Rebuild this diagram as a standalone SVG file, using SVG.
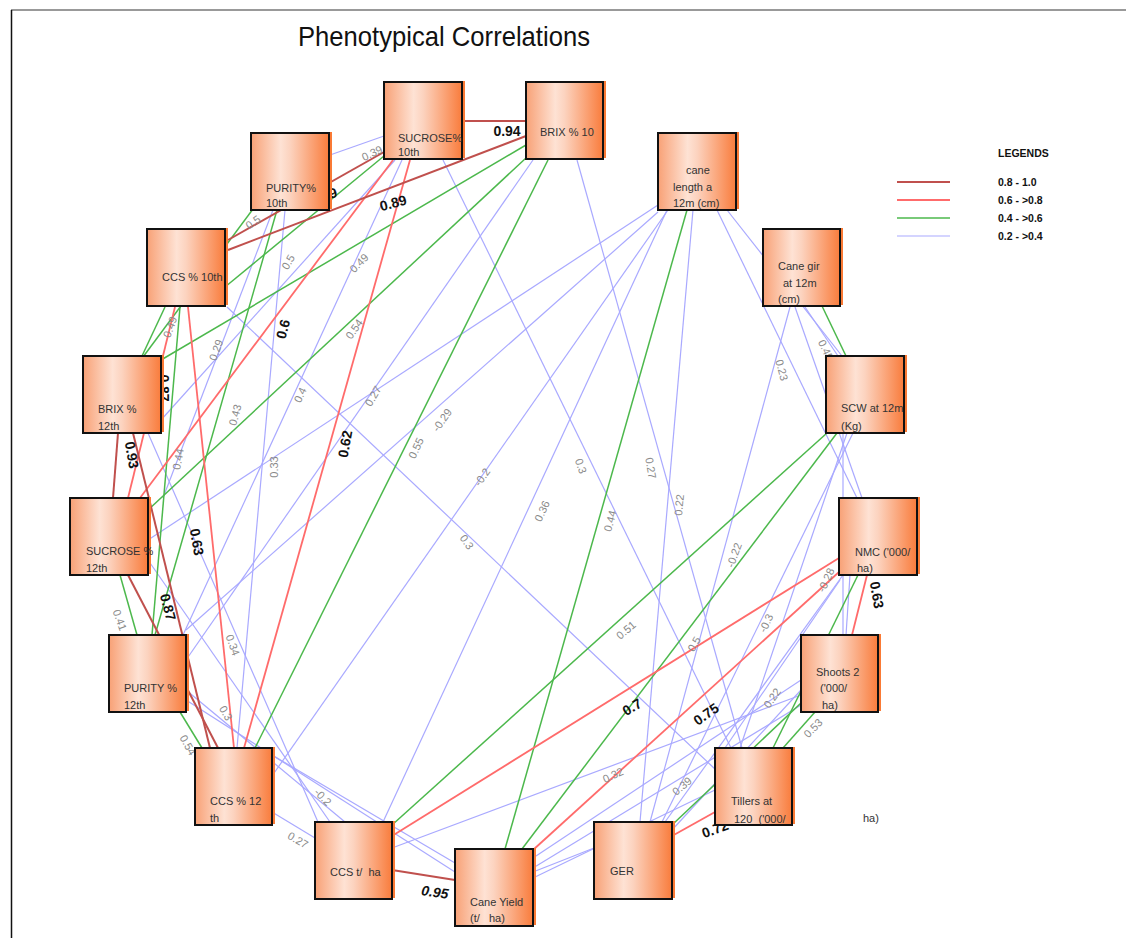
<svg xmlns="http://www.w3.org/2000/svg" width="1126" height="938" viewBox="0 0 1126 938">
<defs>
<linearGradient id="gr" x1="0" y1="0" x2="1" y2="0">
<stop offset="0" stop-color="#f8a176"/>
<stop offset="0.38" stop-color="#fee2d4"/>
<stop offset="0.5" stop-color="#fcd3bf"/>
<stop offset="1" stop-color="#f97c3c"/>
</linearGradient>
<style>
.dr{stroke:#c0504d;stroke-width:2;fill:none}
.r{stroke:#ff6b6b;stroke-width:1.8;fill:none}
.g{stroke:#4cb84c;stroke-width:1.5;fill:none}
.b{stroke:#a9a9ff;stroke-width:1.2;fill:none}
.sh{fill:#fa7a35}
.box{fill:url(#gr);stroke:#111;stroke-width:2}
.t{font-family:"Liberation Sans",Arial,sans-serif;font-size:11px;fill:#333;white-space:pre}
.lg{font-family:"Liberation Sans",Arial,sans-serif;font-size:11px;fill:#8a8a8a;text-anchor:middle;dominant-baseline:central}
.lb{font-family:"Liberation Sans",Arial,sans-serif;font-size:14px;font-weight:bold;fill:#111;text-anchor:middle;dominant-baseline:central}
.leg{font-family:"Liberation Sans",Arial,sans-serif;font-size:10.5px;font-weight:bold;fill:#111}
</style>
</defs>
<rect width="1126" height="938" fill="#fff"/>
<line x1="11" y1="10" x2="1126" y2="10" stroke="#777" stroke-width="1.5"/>
<line x1="11.5" y1="10" x2="11.5" y2="938" stroke="#111" stroke-width="1.5"/>
<text x="298" y="46" font-family="Liberation Sans, Arial, sans-serif" font-size="28" fill="#111" textLength="292" lengthAdjust="spacingAndGlyphs">Phenotypical Correlations</text>

<g id="legend">
<text class="leg" x="998" y="157">LEGENDS</text>
<line class="dr" x1="897" y1="182" x2="950" y2="182"/>
<line class="r" x1="897" y1="200" x2="950" y2="200"/>
<line class="g" x1="897" y1="218" x2="950" y2="218" stroke-width="2"/>
<line class="b" x1="897" y1="236" x2="950" y2="236" stroke-width="1.5"/>
<text class="leg" x="998" y="186">0.8 - 1.0</text>
<text class="leg" x="998" y="204">0.6 - &gt;0.8</text>
<text class="leg" x="998" y="222">0.4 - &gt;0.6</text>
<text class="leg" x="998" y="240">0.2 - &gt;0.4</text>
</g>

<g id="connectors">
<line class="b" x1="384" y1="136" x2="330" y2="155"/>
<line class="b" x1="443" y1="160" x2="731" y2="748"/>
<line class="b" x1="577" y1="160" x2="742" y2="748"/>
<line class="b" x1="658" y1="212" x2="186" y2="630"/>
<line class="b" x1="667" y1="210" x2="383" y2="822"/>
<line class="b" x1="693" y1="210" x2="640" y2="822"/>
<line class="b" x1="717" y1="210" x2="857" y2="498"/>
<line class="b" x1="727" y1="210" x2="842" y2="356"/>
<line class="b" x1="658" y1="205" x2="148" y2="540"/>
<line class="b" x1="668" y1="210" x2="272" y2="776"/>
<line class="b" x1="402" y1="160" x2="183" y2="635"/>
<line class="b" x1="533" y1="160" x2="186" y2="660"/>
<line class="b" x1="272" y1="755" x2="455" y2="863"/>
<line class="b" x1="186" y1="690" x2="345" y2="822"/>
<line class="b" x1="186" y1="700" x2="455" y2="872"/>
<line class="b" x1="392" y1="848" x2="801" y2="695"/>
<line class="b" x1="148" y1="560" x2="330" y2="822"/>
<line class="b" x1="148" y1="433" x2="318" y2="822"/>
<line class="b" x1="227" y1="307" x2="716" y2="770"/>
<line class="b" x1="790" y1="307" x2="650" y2="822"/>
<line class="b" x1="847" y1="433" x2="740" y2="748"/>
<line class="b" x1="853" y1="433" x2="662" y2="822"/>
<line class="b" x1="843" y1="433" x2="843" y2="635"/>
<line class="b" x1="843" y1="575" x2="665" y2="822"/>
<line class="b" x1="533" y1="858" x2="801" y2="680"/>
<line class="b" x1="533" y1="872" x2="594" y2="848"/>
<line class="b" x1="801" y1="705" x2="533" y2="868"/>
<line class="b" x1="273" y1="210" x2="163" y2="498"/>
<line class="b" x1="285" y1="210" x2="237" y2="748"/>
<line class="b" x1="805" y1="307" x2="838" y2="356"/>
<line class="b" x1="795" y1="307" x2="862" y2="498"/>
<line class="b" x1="850" y1="575" x2="846" y2="635"/>
<line class="b" x1="840" y1="580" x2="725" y2="748"/>
<line class="b" x1="801" y1="690" x2="672" y2="830"/>
<line class="b" x1="715" y1="790" x2="533" y2="878"/>
<line class="b" x1="395" y1="160" x2="161" y2="420"/>
<line class="b" x1="272" y1="812" x2="315" y2="838"/>
<line class="g" x1="526" y1="145" x2="161" y2="360"/>
<line class="g" x1="526" y1="158" x2="148" y2="510"/>
<line class="g" x1="548" y1="160" x2="255" y2="748"/>
<line class="g" x1="687" y1="210" x2="505" y2="849"/>
<line class="g" x1="822" y1="306" x2="846" y2="356"/>
<line class="g" x1="827" y1="433" x2="392" y2="825"/>
<line class="g" x1="837" y1="433" x2="522" y2="849"/>
<line class="g" x1="858" y1="575" x2="773" y2="748"/>
<line class="g" x1="815" y1="712" x2="783" y2="748"/>
<line class="g" x1="672" y1="825" x2="801" y2="703"/>
<line class="g" x1="384" y1="156" x2="225" y2="287"/>
<line class="g" x1="256" y1="205" x2="143" y2="357"/>
<line class="g" x1="277" y1="210" x2="155" y2="635"/>
<line class="g" x1="180" y1="307" x2="152" y2="635"/>
<line class="g" x1="120" y1="575" x2="137" y2="635"/>
<line class="g" x1="165" y1="307" x2="142" y2="356"/>
<line class="g" x1="180" y1="712" x2="202" y2="748"/>
<line class="r" x1="393" y1="160" x2="140" y2="498"/>
<line class="r" x1="410" y1="160" x2="244" y2="748"/>
<line class="r" x1="175" y1="307" x2="128" y2="498"/>
<line class="r" x1="188" y1="307" x2="234" y2="748"/>
<line class="r" x1="392" y1="836" x2="839" y2="558"/>
<line class="r" x1="533" y1="850" x2="839" y2="572"/>
<line class="r" x1="867" y1="575" x2="852" y2="635"/>
<line class="r" x1="672" y1="836" x2="715" y2="812"/>
<line class="dr" x1="462" y1="121" x2="526" y2="121"/>
<line class="dr" x1="526" y1="136" x2="228" y2="250"/>
<line class="dr" x1="384" y1="152" x2="228" y2="240"/>
<line class="dr" x1="118" y1="433" x2="113" y2="498"/>
<line class="dr" x1="128" y1="575" x2="218" y2="748"/>
<line class="dr" x1="133" y1="433" x2="210" y2="748"/>
<line class="dr" x1="392" y1="870" x2="455" y2="880"/>

<text class="lb" x="507" y="131">0.94</text>
<text class="lb" transform="translate(393,203) rotate(-15)">0.89</text>
<text class="lb" transform="translate(333,193) rotate(-15)">9</text>
<text class="lb" transform="translate(283,329) rotate(-75)">0.6</text>
<text class="lb" transform="translate(164,388) rotate(90)">0.87</text>
<text class="lb" transform="translate(132,455) rotate(80)">0.93</text>
<text class="lb" transform="translate(197,542) rotate(80)">0.63</text>
<text class="lb" transform="translate(168,607) rotate(75)">0.87</text>
<text class="lb" transform="translate(345,444) rotate(-80)">0.62</text>
<text class="lb" font-style="italic" transform="translate(435,892) rotate(8)">0.95</text>
<text class="lb" transform="translate(632,707) rotate(-30)">0.7</text>
<text class="lb" transform="translate(706,714) rotate(-35)">0.75</text>
<text class="lb" transform="translate(715,829) rotate(-20)">0.72</text>
<text class="lb" transform="translate(877,595) rotate(80)">0.63</text>

<text class="lg" transform="translate(372,153) rotate(-25)">0.39</text>
<text class="lg" transform="translate(253,222) rotate(-35)">0.5</text>
<text class="lg" transform="translate(288,262) rotate(-60)">0.5</text>
<text class="lg" transform="translate(359,263) rotate(-45)">0.49</text>
<text class="lg" transform="translate(170,327) rotate(-70)">0.49</text>
<text class="lg" transform="translate(216,350) rotate(-70)">0.29</text>
<text class="lg" transform="translate(354,329) rotate(-55)">0.54</text>
<text class="lg" transform="translate(235,415) rotate(-75)">0.43</text>
<text class="lg" transform="translate(300,395) rotate(-65)">0.4</text>
<text class="lg" transform="translate(373,396) rotate(-60)">0.27</text>
<text class="lg" transform="translate(274,467) rotate(-90)">0.33</text>
<text class="lg" transform="translate(416,448) rotate(-65)">0.55</text>
<text class="lg" transform="translate(442,420) rotate(-55)">-0.29</text>
<text class="lg" transform="translate(178,459) rotate(-80)">0.44</text>
<text class="lg" transform="translate(482,477) rotate(-55)">-0.2</text>
<text class="lg" transform="translate(467,542) rotate(55)">0.3</text>
<text class="lg" transform="translate(542,511) rotate(-65)">0.36</text>
<text class="lg" transform="translate(581,466) rotate(70)">0.3</text>
<text class="lg" transform="translate(610,521) rotate(-75)">0.44</text>
<text class="lg" transform="translate(651,468) rotate(80)">0.27</text>
<text class="lg" transform="translate(679,505) rotate(-85)">0.22</text>
<text class="lg" transform="translate(734,555) rotate(-70)">-0.22</text>
<text class="lg" transform="translate(626,630) rotate(-40)">0.51</text>
<text class="lg" transform="translate(694,644) rotate(-60)">0.5</text>
<text class="lg" transform="translate(766,623) rotate(-65)">-0.3</text>
<text class="lg" transform="translate(826,580) rotate(-65)">-0.28</text>
<text class="lg" transform="translate(772,698) rotate(-55)">0.22</text>
<text class="lg" transform="translate(813,728) rotate(-45)">0.53</text>
<text class="lg" transform="translate(682,786) rotate(-40)">0.39</text>
<text class="lg" transform="translate(613,775) rotate(-25)">0.32</text>
<text class="lg" transform="translate(782,370) rotate(75)">0.23</text>
<text class="lg" transform="translate(826,350) rotate(65)">0.45</text>
<text class="lg" transform="translate(120,620) rotate(70)">0.41</text>
<text class="lg" transform="translate(233,645) rotate(70)">0.34</text>
<text class="lg" transform="translate(226,713) rotate(60)">0.3</text>
<text class="lg" transform="translate(188,745) rotate(60)">0.54</text>
<text class="lg" transform="translate(323,797) rotate(45)">-0.2</text>
<text class="lg" transform="translate(298,840) rotate(30)">0.27</text>
</g>

<g id="n-suc10"><rect class="sh" x="387" y="81" width="78" height="77"/><rect class="box" x="384" y="82" width="78" height="77"/><text class="t" x="398" y="142">SUCROSE%</text><text class="t" x="398" y="156">10th</text></g>
<g id="n-brix10"><rect class="sh" x="529" y="81" width="77" height="77"/><rect class="box" x="526" y="82" width="77" height="77"/><text class="t" x="540" y="136">BRIX % 10</text></g>
<g id="n-pur10"><rect class="sh" x="254" y="132" width="78" height="77"/><rect class="box" x="251" y="133" width="78" height="77"/><text class="t" x="266" y="192">PURITY%</text><text class="t" x="266" y="207">10th</text></g>
<g id="n-canel"><rect class="sh" x="661" y="132" width="78" height="77"/><rect class="box" x="658" y="133" width="78" height="77"/><text class="t" x="686" y="174">cane</text><text class="t" x="673" y="191">length a</text><text class="t" x="673" y="207">12m (cm)</text></g>
<g id="n-ccs10"><rect class="sh" x="150" y="228" width="78" height="77"/><rect class="box" x="147" y="229" width="78" height="77"/><text class="t" x="162" y="281">CCS % 10th</text></g>
<g id="n-girth"><rect class="sh" x="766" y="228" width="77" height="77"/><rect class="box" x="763" y="229" width="77" height="77"/><text class="t" x="778" y="270">Cane gir</text><text class="t" x="783" y="287">at 12m</text><text class="t" x="778" y="303">(cm)</text></g>
<g id="n-brix12"><rect class="sh" x="86" y="355" width="78" height="77"/><rect class="box" x="83" y="356" width="78" height="77"/><text class="t" x="98" y="413">BRIX %</text><text class="t" x="98" y="430">12th</text></g>
<g id="n-scw"><rect class="sh" x="829" y="355" width="78" height="77"/><rect class="box" x="826" y="356" width="78" height="77"/><text class="t" x="841" y="412">SCW at 12m</text><text class="t" x="841" y="430">(Kg)</text></g>
<g id="n-suc12"><rect class="sh" x="73" y="497" width="78" height="77"/><rect class="box" x="70" y="498" width="78" height="77"/><text class="t" x="86" y="555">SUCROSE %</text><text class="t" x="86" y="572">12th</text></g>
<g id="n-nmc"><rect class="sh" x="842" y="497" width="78" height="77"/><rect class="box" x="839" y="498" width="78" height="77"/><text class="t" x="855" y="556">NMC ('000/</text><text class="t" x="857" y="572">ha)</text></g>
<g id="n-pur12"><rect class="sh" x="112" y="634" width="77" height="77"/><rect class="box" x="109" y="635" width="77" height="77"/><text class="t" x="124" y="692">PURITY %</text><text class="t" x="124" y="709">12th</text></g>
<g id="n-shoots"><rect class="sh" x="804" y="634" width="77" height="77"/><rect class="box" x="801" y="635" width="77" height="77"/><text class="t" x="816" y="676">Shoots 2</text><text class="t" x="820" y="692">('000/</text><text class="t" x="822" y="709">ha)</text></g>
<g id="n-ccs12"><rect class="sh" x="198" y="747" width="77" height="77"/><rect class="box" x="195" y="748" width="77" height="77"/><text class="t" x="210" y="805">CCS % 12</text><text class="t" x="210" y="822">th</text></g>
<g id="n-tillers"><rect class="sh" x="718" y="747" width="77" height="77"/><rect class="box" x="715" y="748" width="77" height="77"/><text class="t" x="731" y="805">Tillers at</text><text class="t" x="734" y="823">120  ('000/</text></g>
<text class="t" x="863" y="822">ha)</text>
<g id="n-ccstha"><rect class="sh" x="318" y="821" width="77" height="77"/><rect class="box" x="315" y="822" width="77" height="77"/><text class="t" x="330" y="876">CCS t/  ha</text></g>
<g id="n-ger"><rect class="sh" x="597" y="821" width="78" height="77"/><rect class="box" x="594" y="822" width="78" height="77"/><text class="t" x="610" y="875">GER</text></g>
<g id="n-yield"><rect class="sh" x="458" y="848" width="78" height="77"/><rect class="box" x="455" y="849" width="78" height="77"/><text class="t" x="470" y="906">Cane Yield</text><text class="t" x="470" y="922">(t/   ha)</text></g>
</svg>
